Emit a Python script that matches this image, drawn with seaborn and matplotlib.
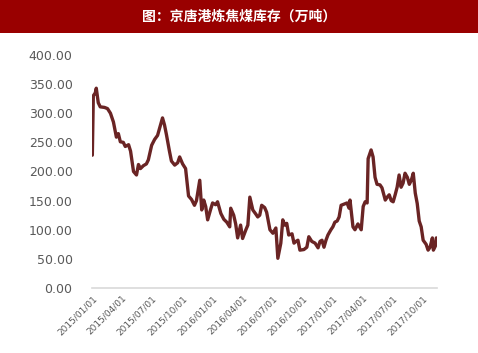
import seaborn as sns
import numpy as np
import pandas as pd
import matplotlib
matplotlib.use("Agg")
import matplotlib.pyplot as plt
from matplotlib.patches import Rectangle
from matplotlib.ticker import FuncFormatter

# Jingtang port coking coal stock (10k tons)
dates = [
    "2015-01-01", "2015-01-04", "2015-01-10", "2015-01-13", "2015-01-19", "2015-01-25",
    "2015-02-07", "2015-02-16", "2015-02-25", "2015-03-06", "2015-03-15", "2015-03-21",
    "2015-03-27", "2015-04-05", "2015-04-11", "2015-04-21", "2015-04-27", "2015-05-06",
    "2015-05-15", "2015-05-21", "2015-05-27", "2015-06-05", "2015-06-14", "2015-06-20",
    "2015-06-30", "2015-07-09", "2015-07-18", "2015-07-27", "2015-08-02", "2015-08-08",
    "2015-08-14", "2015-08-23", "2015-08-29", "2015-09-08", "2015-09-17", "2015-09-23",
    "2015-10-02", "2015-10-11", "2015-10-20", "2015-10-29", "2015-11-07", "2015-11-13",
    "2015-11-23", "2015-11-29", "2015-12-05", "2015-12-11", "2015-12-17", "2015-12-26",
    "2016-01-01", "2016-01-10", "2016-01-16", "2016-01-26", "2016-02-04", "2016-02-13",
    "2016-02-22", "2016-02-25", "2016-03-05", "2016-03-11", "2016-03-17", "2016-03-26",
    "2016-04-01", "2016-04-11", "2016-04-17", "2016-04-23", "2016-05-02", "2016-05-11",
    "2016-05-17", "2016-05-23", "2016-05-29", "2016-06-07", "2016-06-13", "2016-06-23",
    "2016-07-02", "2016-07-11", "2016-07-17", "2016-07-26", "2016-08-01", "2016-08-07",
    "2016-08-13", "2016-08-19", "2016-08-29", "2016-09-04", "2016-09-10", "2016-09-16",
    "2016-09-22", "2016-10-04", "2016-10-13", "2016-10-19", "2016-10-28", "2016-11-07",
    "2016-11-16", "2016-11-22", "2016-11-28", "2016-12-04", "2016-12-10", "2016-12-16",
    "2016-12-25", "2016-12-31", "2017-01-06", "2017-01-13", "2017-01-19", "2017-01-25",
    "2017-02-03", "2017-02-12", "2017-02-18", "2017-02-21", "2017-03-02", "2017-03-08",
    "2017-03-17", "2017-03-27", "2017-04-02", "2017-04-08", "2017-04-14", "2017-04-17",
    "2017-04-23", "2017-04-26", "2017-05-02", "2017-05-08", "2017-05-14", "2017-05-23",
    "2017-05-29", "2017-06-08", "2017-06-14", "2017-06-20", "2017-06-26", "2017-07-02",
    "2017-07-08", "2017-07-14", "2017-07-20", "2017-07-26", "2017-08-01", "2017-08-07",
    "2017-08-14", "2017-08-20", "2017-08-26", "2017-09-01", "2017-09-07", "2017-09-13",
    "2017-09-19", "2017-09-25", "2017-10-01", "2017-10-10", "2017-10-16", "2017-10-22",
    "2017-10-29", "2017-11-01", "2017-11-07", "2017-11-10",
]
stock = [
    228, 330, 335, 343, 318, 311,
    310, 308, 300, 285, 259, 265,
    251, 250, 243, 246, 235, 200,
    194, 212, 205, 210, 213, 220,
    245, 255, 262, 280, 292, 280,
    263, 235, 218, 211, 215, 225,
    213, 205, 158, 152, 142, 150,
    185, 134, 151, 140, 117, 135,
    146, 143, 148, 128, 118, 113,
    105, 137, 125, 110, 86, 108,
    85, 100, 108, 156, 134, 127,
    122, 125, 142, 138, 130, 100,
    94, 103, 51, 77, 117, 108,
    111, 91, 93, 77, 80, 82,
    65, 66, 70, 88, 80, 77,
    69, 80, 82, 70, 82, 91,
    100, 105, 113, 115, 122, 142,
    144, 146, 137, 151, 105, 100,
    110, 100, 140, 148, 146, 222,
    232, 237, 225, 190, 178, 177,
    172, 151, 156, 160, 150, 148,
    160, 173, 194, 173, 180, 197,
    190, 178, 185, 197, 163, 145,
    115, 105, 82, 75, 65, 70,
    86, 65, 72, 86,
]
tick_dates = ["2015-01-01", "2015-04-01", "2015-07-01", "2015-10-01",
              "2016-01-01", "2016-04-01", "2016-07-01", "2016-10-01",
              "2017-01-01", "2017-04-01", "2017-07-01", "2017-10-01"]
title = "图：京唐港炼焦煤库存（万吨）"

df = pd.DataFrame({"date": pd.to_datetime(dates), "stock": stock})

sns.set_style("white")
plt.rcParams["font.family"] = ["DejaVu Sans", "Noto Sans CJK SC"]

fig = plt.figure(figsize=(4.78, 3.53), dpi=100)
# red title bar
fig.patches.append(Rectangle((0, 1 - 33 / 353), 1, 33 / 353, transform=fig.transFigure,
                             facecolor="#990000", edgecolor="none", zorder=0))
fig.text(0.5, 1 - 16.5 / 353, title, color="white", fontsize=10, fontweight="bold",
         ha="center", va="center", family=["Noto Sans CJK SC", "DejaVu Sans"])

ax = fig.add_axes([92 / 478, 65 / 353, 345 / 478, 233 / 353])
sns.lineplot(data=df, x="date", y="stock", ax=ax, color="#6a2424", linewidth=2.4)

ax.set_ylim(0, 400)
ax.set_yticks(np.arange(0, 401, 50))
ax.yaxis.set_major_formatter(FuncFormatter(lambda v, p: f"{v:.2f}"))
ax.set_xlim(pd.Timestamp("2014-12-31"), pd.Timestamp("2017-11-12"))
ticks = pd.to_datetime(tick_dates)
ax.set_xticks(ticks)
ax.set_xticklabels([t.strftime("%Y/%m/%d") for t in ticks], rotation=45,
                   ha="right", rotation_mode="anchor", fontsize=6.5, color="#595959")
ax.tick_params(axis="y", labelsize=9, colors="#595959", length=0, pad=14)
ax.tick_params(axis="x", length=0, pad=4)
ax.set_xlabel("")
ax.set_ylabel("")
for s in ["top", "right", "left"]:
    ax.spines[s].set_visible(False)
ax.spines["bottom"].set_color("#d9d9d9")
ax.spines["bottom"].set_linewidth(1.2)
ax.grid(False)

fig.savefig("out.png", dpi=100)
